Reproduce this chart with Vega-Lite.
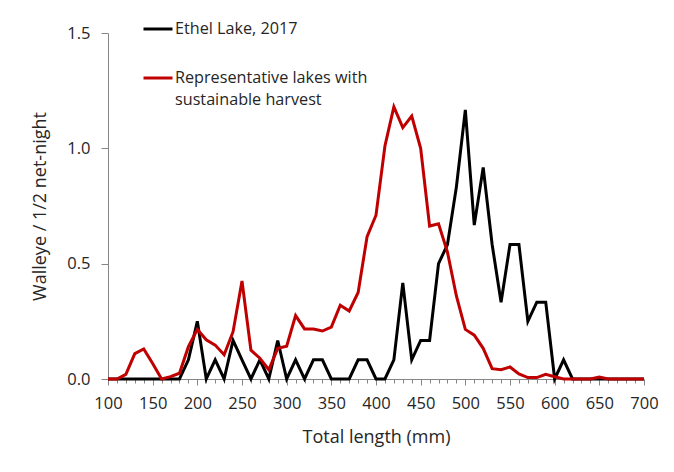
{
  "$schema": "https://vega.github.io/schema/vega-lite/v6.json",
  "autosize": "none",
  "width": 536,
  "height": 346,
  "padding": {"left": 108, "top": 33, "right": 30, "bottom": 93},
  "background": "white",
  "config": {
    "view": {"stroke": null},
    "font": "Open Sans",
    "style": {"guide-label": {"lineHeight": 22}},
    "axis": {"grid": false, "domainColor": "#868686", "tickColor": "#868686", "labelColor": "#262626", "titleColor": "#262626", "labelFont": "Open Sans", "titleFont": "Open Sans", "labelFontSize": 16.5, "titleFontSize": 18, "titleFontWeight": "normal"}
  },
  "datasets": {
    "d": [
      {"len": 100, "v": 0, "s": "Ethel Lake, 2017"},
      {"len": 110, "v": 0, "s": "Ethel Lake, 2017"},
      {"len": 120, "v": 0, "s": "Ethel Lake, 2017"},
      {"len": 130, "v": 0, "s": "Ethel Lake, 2017"},
      {"len": 140, "v": 0, "s": "Ethel Lake, 2017"},
      {"len": 150, "v": 0, "s": "Ethel Lake, 2017"},
      {"len": 160, "v": 0, "s": "Ethel Lake, 2017"},
      {"len": 170, "v": 0, "s": "Ethel Lake, 2017"},
      {"len": 180, "v": 0, "s": "Ethel Lake, 2017"},
      {"len": 190, "v": 0.083, "s": "Ethel Lake, 2017"},
      {"len": 200, "v": 0.25, "s": "Ethel Lake, 2017"},
      {"len": 210, "v": 0, "s": "Ethel Lake, 2017"},
      {"len": 220, "v": 0.083, "s": "Ethel Lake, 2017"},
      {"len": 230, "v": 0, "s": "Ethel Lake, 2017"},
      {"len": 240, "v": 0.167, "s": "Ethel Lake, 2017"},
      {"len": 250, "v": 0.083, "s": "Ethel Lake, 2017"},
      {"len": 260, "v": 0, "s": "Ethel Lake, 2017"},
      {"len": 270, "v": 0.083, "s": "Ethel Lake, 2017"},
      {"len": 280, "v": 0, "s": "Ethel Lake, 2017"},
      {"len": 290, "v": 0.167, "s": "Ethel Lake, 2017"},
      {"len": 300, "v": 0, "s": "Ethel Lake, 2017"},
      {"len": 310, "v": 0.083, "s": "Ethel Lake, 2017"},
      {"len": 320, "v": 0, "s": "Ethel Lake, 2017"},
      {"len": 330, "v": 0.083, "s": "Ethel Lake, 2017"},
      {"len": 340, "v": 0.083, "s": "Ethel Lake, 2017"},
      {"len": 350, "v": 0, "s": "Ethel Lake, 2017"},
      {"len": 360, "v": 0, "s": "Ethel Lake, 2017"},
      {"len": 370, "v": 0, "s": "Ethel Lake, 2017"},
      {"len": 380, "v": 0.083, "s": "Ethel Lake, 2017"},
      {"len": 390, "v": 0.083, "s": "Ethel Lake, 2017"},
      {"len": 400, "v": 0, "s": "Ethel Lake, 2017"},
      {"len": 410, "v": 0, "s": "Ethel Lake, 2017"},
      {"len": 420, "v": 0.083, "s": "Ethel Lake, 2017"},
      {"len": 430, "v": 0.417, "s": "Ethel Lake, 2017"},
      {"len": 440, "v": 0.083, "s": "Ethel Lake, 2017"},
      {"len": 450, "v": 0.167, "s": "Ethel Lake, 2017"},
      {"len": 460, "v": 0.167, "s": "Ethel Lake, 2017"},
      {"len": 470, "v": 0.5, "s": "Ethel Lake, 2017"},
      {"len": 480, "v": 0.583, "s": "Ethel Lake, 2017"},
      {"len": 490, "v": 0.833, "s": "Ethel Lake, 2017"},
      {"len": 500, "v": 1.167, "s": "Ethel Lake, 2017"},
      {"len": 510, "v": 0.667, "s": "Ethel Lake, 2017"},
      {"len": 520, "v": 0.917, "s": "Ethel Lake, 2017"},
      {"len": 530, "v": 0.583, "s": "Ethel Lake, 2017"},
      {"len": 540, "v": 0.333, "s": "Ethel Lake, 2017"},
      {"len": 550, "v": 0.583, "s": "Ethel Lake, 2017"},
      {"len": 560, "v": 0.583, "s": "Ethel Lake, 2017"},
      {"len": 570, "v": 0.25, "s": "Ethel Lake, 2017"},
      {"len": 580, "v": 0.333, "s": "Ethel Lake, 2017"},
      {"len": 590, "v": 0.333, "s": "Ethel Lake, 2017"},
      {"len": 600, "v": 0, "s": "Ethel Lake, 2017"},
      {"len": 610, "v": 0.083, "s": "Ethel Lake, 2017"},
      {"len": 620, "v": 0, "s": "Ethel Lake, 2017"},
      {"len": 630, "v": 0, "s": "Ethel Lake, 2017"},
      {"len": 640, "v": 0, "s": "Ethel Lake, 2017"},
      {"len": 650, "v": 0, "s": "Ethel Lake, 2017"},
      {"len": 660, "v": 0, "s": "Ethel Lake, 2017"},
      {"len": 670, "v": 0, "s": "Ethel Lake, 2017"},
      {"len": 680, "v": 0, "s": "Ethel Lake, 2017"},
      {"len": 690, "v": 0, "s": "Ethel Lake, 2017"},
      {"len": 700, "v": 0, "s": "Ethel Lake, 2017"},
      {"len": 100, "v": 0, "s": "Representative lakes with sustainable harvest"},
      {"len": 110, "v": 0, "s": "Representative lakes with sustainable harvest"},
      {"len": 120, "v": 0.02, "s": "Representative lakes with sustainable harvest"},
      {"len": 130, "v": 0.11, "s": "Representative lakes with sustainable harvest"},
      {"len": 140, "v": 0.13, "s": "Representative lakes with sustainable harvest"},
      {"len": 150, "v": 0.067, "s": "Representative lakes with sustainable harvest"},
      {"len": 160, "v": 0, "s": "Representative lakes with sustainable harvest"},
      {"len": 170, "v": 0.01, "s": "Representative lakes with sustainable harvest"},
      {"len": 180, "v": 0.025, "s": "Representative lakes with sustainable harvest"},
      {"len": 190, "v": 0.14, "s": "Representative lakes with sustainable harvest"},
      {"len": 200, "v": 0.215, "s": "Representative lakes with sustainable harvest"},
      {"len": 210, "v": 0.17, "s": "Representative lakes with sustainable harvest"},
      {"len": 220, "v": 0.147, "s": "Representative lakes with sustainable harvest"},
      {"len": 230, "v": 0.105, "s": "Representative lakes with sustainable harvest"},
      {"len": 240, "v": 0.205, "s": "Representative lakes with sustainable harvest"},
      {"len": 250, "v": 0.425, "s": "Representative lakes with sustainable harvest"},
      {"len": 260, "v": 0.125, "s": "Representative lakes with sustainable harvest"},
      {"len": 270, "v": 0.09, "s": "Representative lakes with sustainable harvest"},
      {"len": 280, "v": 0.04, "s": "Representative lakes with sustainable harvest"},
      {"len": 290, "v": 0.133, "s": "Representative lakes with sustainable harvest"},
      {"len": 300, "v": 0.142, "s": "Representative lakes with sustainable harvest"},
      {"len": 310, "v": 0.275, "s": "Representative lakes with sustainable harvest"},
      {"len": 320, "v": 0.217, "s": "Representative lakes with sustainable harvest"},
      {"len": 330, "v": 0.217, "s": "Representative lakes with sustainable harvest"},
      {"len": 340, "v": 0.208, "s": "Representative lakes with sustainable harvest"},
      {"len": 350, "v": 0.225, "s": "Representative lakes with sustainable harvest"},
      {"len": 360, "v": 0.32, "s": "Representative lakes with sustainable harvest"},
      {"len": 370, "v": 0.295, "s": "Representative lakes with sustainable harvest"},
      {"len": 380, "v": 0.375, "s": "Representative lakes with sustainable harvest"},
      {"len": 390, "v": 0.617, "s": "Representative lakes with sustainable harvest"},
      {"len": 400, "v": 0.71, "s": "Representative lakes with sustainable harvest"},
      {"len": 410, "v": 1.01, "s": "Representative lakes with sustainable harvest"},
      {"len": 420, "v": 1.18, "s": "Representative lakes with sustainable harvest"},
      {"len": 430, "v": 1.09, "s": "Representative lakes with sustainable harvest"},
      {"len": 440, "v": 1.14, "s": "Representative lakes with sustainable harvest"},
      {"len": 450, "v": 1.0, "s": "Representative lakes with sustainable harvest"},
      {"len": 460, "v": 0.663, "s": "Representative lakes with sustainable harvest"},
      {"len": 470, "v": 0.673, "s": "Representative lakes with sustainable harvest"},
      {"len": 480, "v": 0.55, "s": "Representative lakes with sustainable harvest"},
      {"len": 490, "v": 0.36, "s": "Representative lakes with sustainable harvest"},
      {"len": 500, "v": 0.215, "s": "Representative lakes with sustainable harvest"},
      {"len": 510, "v": 0.19, "s": "Representative lakes with sustainable harvest"},
      {"len": 520, "v": 0.133, "s": "Representative lakes with sustainable harvest"},
      {"len": 530, "v": 0.045, "s": "Representative lakes with sustainable harvest"},
      {"len": 540, "v": 0.04, "s": "Representative lakes with sustainable harvest"},
      {"len": 550, "v": 0.052, "s": "Representative lakes with sustainable harvest"},
      {"len": 560, "v": 0.022, "s": "Representative lakes with sustainable harvest"},
      {"len": 570, "v": 0.006, "s": "Representative lakes with sustainable harvest"},
      {"len": 580, "v": 0.006, "s": "Representative lakes with sustainable harvest"},
      {"len": 590, "v": 0.02, "s": "Representative lakes with sustainable harvest"},
      {"len": 600, "v": 0.01, "s": "Representative lakes with sustainable harvest"},
      {"len": 610, "v": 0, "s": "Representative lakes with sustainable harvest"},
      {"len": 620, "v": 0, "s": "Representative lakes with sustainable harvest"},
      {"len": 630, "v": 0, "s": "Representative lakes with sustainable harvest"},
      {"len": 640, "v": 0, "s": "Representative lakes with sustainable harvest"},
      {"len": 650, "v": 0.008, "s": "Representative lakes with sustainable harvest"},
      {"len": 660, "v": 0, "s": "Representative lakes with sustainable harvest"},
      {"len": 670, "v": 0, "s": "Representative lakes with sustainable harvest"},
      {"len": 680, "v": 0, "s": "Representative lakes with sustainable harvest"},
      {"len": 690, "v": 0, "s": "Representative lakes with sustainable harvest"},
      {"len": 700, "v": 0, "s": "Representative lakes with sustainable harvest"}
    ]
  },
  "data": {"name": "d"},
  "mark": {"type": "line", "strokeWidth": 3, "strokeJoin": "miter", "clip": false},
  "encoding": {
    "x": {
      "field": "len", "type": "quantitative",
      "scale": {"domain": [100, 700], "nice": false, "zero": false},
      "axis": {
        "title": "Total length (mm)",
        "values": [100,110,120,130,140,150,160,170,180,190,200,210,220,230,240,250,260,270,280,290,300,310,320,330,340,350,360,370,380,390,400,410,420,430,440,450,460,470,480,490,500,510,520,530,540,550,560,570,580,590,600,610,620,630,640,650,660,670,680,690,700],
        "labelExpr": "datum.value % 50 === 0 ? datum.label : ''",
        "tickSize": {"condition": {"test": "datum.value % 50 === 0", "value": 6}, "value": 4},
        "labelPadding": 10,
        "titlePadding": 17,
        "labelFlush": false,
        "labelOverlap": false
      }
    },
    "y": {
      "field": "v", "type": "quantitative",
      "scale": {"domain": [0, 1.5], "nice": false},
      "axis": {
        "title": "Walleye / 1/2 net-night",
        "values": [0, 0.5, 1, 1.5],
        "format": ".1f",
        "tickSize": 7,
        "labelPadding": 11,
        "titlePadding": 17
      }
    },
    "color": {
      "field": "s", "type": "nominal",
      "scale": {"domain": ["Ethel Lake, 2017", "Representative lakes with sustainable harvest"], "range": ["#000000", "#c00000"]},
      "legend": {
        "title": null,
        "orient": "none",
        "legendX": 34,
        "legendY": -20,
        "symbolType": "stroke",
        "symbolSize": 841,
        "symbolStrokeWidth": 3,
        "labelFont": "Open Sans",
        "labelFontSize": 16.2,
        "labelColor": "#262626",
        "labelOffset": 1,
        "labelLimit": 300,
        "rowPadding": 24,
        "labelExpr": "datum.label === 'Ethel Lake, 2017' ? datum.label : ['Representative lakes with', 'sustainable harvest']"
      }
    }
  }
}
